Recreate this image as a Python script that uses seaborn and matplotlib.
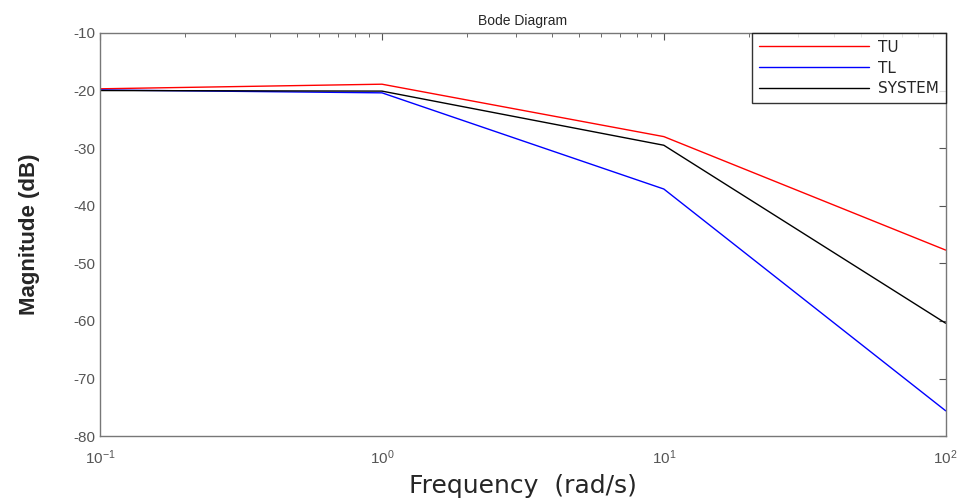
import numpy as np
import pandas as pd
import matplotlib
matplotlib.use("Agg")
import matplotlib.pyplot as plt
import seaborn as sns

# values (freq in rad/s, magnitude in dB)
freq = [0.1, 1.0, 10.0, 100.0]
tu = [-19.7, -18.9, -28.0, -47.7]
tl = [-19.9, -20.4, -37.1, -75.6]
system = [-20.0, -20.1, -29.5, -60.4]

df = pd.DataFrame({
    "freq": freq * 3,
    "mag": tu + tl + system,
    "name": ["TU"] * len(freq) + ["TL"] * len(freq) + ["SYSTEM"] * len(freq),
})

sns.set_style("white")
plt.rcParams["font.family"] = ["Liberation Sans", "DejaVu Sans"]
plt.rcParams["axes.unicode_minus"] = False

fig = plt.figure(figsize=(9.63, 4.99), dpi=100)
ax = fig.add_axes([0.104, 0.126, 0.878, 0.808])
sns.lineplot(data=df, x="freq", y="mag", hue="name",
             palette={"TU": "#ff0000", "TL": "#0000ff", "SYSTEM": "#000000"},
             linewidth=1.0, ax=ax)

ax.set_xscale("log")
ax.set_xlim(0.1, 100)
ax.set_ylim(-80, -10)
ax.set_yticks(np.arange(-80, -9, 10))
ax.tick_params(which="both", direction="in", top=True, right=True,
               colors="#555555", labelsize=11)
ax.tick_params(axis="x", which="major", pad=9)
ax.tick_params(which="major", length=5)
ax.tick_params(which="minor", length=3)
for s in ax.spines.values():
    s.set_color("#777777")
    s.set_linewidth(1.0)

ax.set_title("Bode Diagram", fontsize=10, pad=6)
ax.set_xlabel("Frequency  (rad/s)", fontsize=18, family="DejaVu Sans", labelpad=5)
ax.set_ylabel("Magnitude (dB)", fontsize=16, fontweight="bold", labelpad=24)

leg = ax.legend(loc="upper right", prop={"family": "DejaVu Sans", "size": 11},
                frameon=True, fancybox=False, borderaxespad=0,
                handlelength=7.2, handletextpad=0.6, borderpad=0.45,
                labelspacing=0.38)
leg.get_frame().set_edgecolor("black")
leg.get_frame().set_linewidth(1.0)

fig.savefig("out.png", dpi=100)
